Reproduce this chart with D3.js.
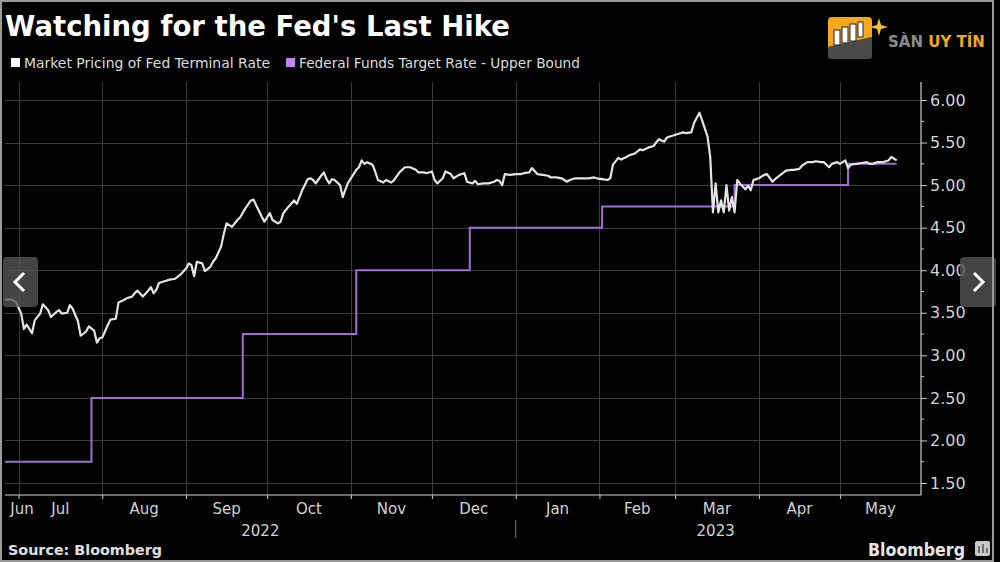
<!DOCTYPE html>
<html><head><meta charset="utf-8">
<script src="https://cdn.jsdelivr.net/npm/d3@7"></script>
<style>html,body{margin:0;padding:0;background:#000;}svg{display:block;}</style>
</head><body>
<svg id="chart" width="1000" height="562"></svg>
<script>
// ---------------- DATA ----------------
const titleText = "Watching for the Fed's Last Hike";
const seriesNames = ["Market Pricing of Fed Terminal Rate", "Federal Funds Target Rate - Upper Bound"];

const terminalDates = [
"2022-06-26","2022-06-28","2022-06-30","2022-07-02","2022-07-03","2022-07-04","2022-07-06","2022-07-07","2022-07-09","2022-07-10",
"2022-07-12","2022-07-13","2022-07-15","2022-07-16","2022-07-17","2022-07-19","2022-07-20","2022-07-21","2022-07-23","2022-07-24",
"2022-07-26","2022-07-27","2022-07-29","2022-07-30","2022-07-31","2022-08-01","2022-08-03","2022-08-04","2022-08-06","2022-08-07",
"2022-08-09","2022-08-10","2022-08-12","2022-08-13","2022-08-14","2022-08-16","2022-08-18","2022-08-19","2022-08-20","2022-08-21",
"2022-08-22","2022-08-24","2022-08-26","2022-08-28","2022-08-30","2022-09-01","2022-09-02","2022-09-03","2022-09-04","2022-09-05",
"2022-09-07","2022-09-08","2022-09-10","2022-09-11","2022-09-12","2022-09-14","2022-09-15","2022-09-16","2022-09-18","2022-09-20",
"2022-09-21","2022-09-23","2022-09-25","2022-09-26","2022-09-27","2022-09-29","2022-09-30","2022-10-01","2022-10-02","2022-10-03",
"2022-10-05","2022-10-06","2022-10-07","2022-10-09","2022-10-11","2022-10-12","2022-10-14","2022-10-16","2022-10-17","2022-10-18",
"2022-10-19","2022-10-21","2022-10-22","2022-10-23","2022-10-24","2022-10-25","2022-10-26","2022-10-28","2022-10-29","2022-10-30",
"2022-10-31","2022-11-01","2022-11-03","2022-11-04","2022-11-05","2022-11-06","2022-11-07","2022-11-09","2022-11-10","2022-11-11",
"2022-11-13","2022-11-14","2022-11-16","2022-11-17","2022-11-19","2022-11-21","2022-11-23","2022-11-25","2022-11-26","2022-11-28",
"2022-11-29","2022-12-01","2022-12-02","2022-12-03","2022-12-05","2022-12-06","2022-12-08","2022-12-09","2022-12-11","2022-12-13",
"2022-12-14","2022-12-16","2022-12-17","2022-12-18","2022-12-20","2022-12-22","2022-12-24","2022-12-25","2022-12-26","2022-12-27",
"2022-12-28","2022-12-30","2023-01-01","2023-01-03","2023-01-04","2023-01-06","2023-01-07","2023-01-09","2023-01-11","2023-01-13",
"2023-01-14","2023-01-16","2023-01-18","2023-01-20","2023-01-21","2023-01-23","2023-01-24","2023-01-26","2023-01-28","2023-01-30",
"2023-01-31","2023-02-02","2023-02-04","2023-02-05","2023-02-06","2023-02-08","2023-02-09","2023-02-11","2023-02-12","2023-02-14",
"2023-02-16","2023-02-17","2023-02-19","2023-02-21","2023-02-22","2023-02-23","2023-02-25","2023-02-26","2023-02-28","2023-03-02",
"2023-03-04","2023-03-05","2023-03-07","2023-03-08","2023-03-10","2023-03-11","2023-03-13","2023-03-14","2023-03-15","2023-03-16",
"2023-03-17","2023-03-18","2023-03-19","2023-03-20","2023-03-21","2023-03-22","2023-03-23","2023-03-24","2023-03-25","2023-03-27",
"2023-03-28","2023-03-29","2023-03-30","2023-03-31","2023-04-01","2023-04-03","2023-04-04","2023-04-06","2023-04-07","2023-04-09",
"2023-04-11","2023-04-13","2023-04-14","2023-04-16","2023-04-17","2023-04-19","2023-04-21","2023-04-22","2023-04-24","2023-04-25",
"2023-04-27","2023-04-28","2023-04-30","2023-05-01","2023-05-03","2023-05-04","2023-05-05","2023-05-07","2023-05-09","2023-05-11",
"2023-05-12","2023-05-13","2023-05-15","2023-05-17","2023-05-18","2023-05-19","2023-05-20","2023-05-22"
];
const terminalValues = [
3.65,3.66,3.63,3.49,3.31,3.36,3.26,3.41,3.49,3.60,
3.53,3.45,3.51,3.53,3.49,3.50,3.59,3.55,3.40,3.23,
3.28,3.34,3.29,3.15,3.20,3.21,3.35,3.42,3.43,3.62,
3.65,3.67,3.69,3.73,3.76,3.69,3.76,3.80,3.73,3.77,
3.85,3.87,3.89,3.90,3.95,4.02,4.08,4.06,3.93,4.10,
4.08,3.99,4.04,4.10,4.14,4.28,4.43,4.55,4.51,4.59,
4.62,4.73,4.82,4.83,4.76,4.63,4.57,4.62,4.67,4.59,
4.55,4.57,4.67,4.75,4.82,4.78,4.94,5.07,5.08,5.06,
5.02,5.11,5.15,5.07,5.02,5.07,5.06,5.00,4.86,4.95,
5.03,5.08,5.18,5.21,5.29,5.25,5.27,5.24,5.16,5.06,
5.03,5.06,5.03,5.06,5.15,5.21,5.21,5.18,5.15,5.15,
5.14,5.16,5.06,5.02,5.08,5.16,5.13,5.08,5.12,5.14,
5.04,5.02,5.05,5.01,5.02,5.02,5.04,5.06,5.05,5.00,
5.13,5.12,5.13,5.13,5.14,5.15,5.20,5.13,5.12,5.11,
5.09,5.09,5.08,5.04,5.06,5.08,5.08,5.08,5.08,5.09,
5.08,5.07,5.06,5.08,5.24,5.32,5.30,5.33,5.35,5.37,
5.42,5.41,5.44,5.46,5.50,5.54,5.51,5.56,5.58,5.60,
5.62,5.61,5.62,5.73,5.85,5.76,5.57,5.33,4.68,5.02,
4.68,4.82,4.68,5.00,4.70,4.86,4.68,5.06,5.02,4.95,
4.99,4.94,5.06,5.07,5.08,5.12,5.13,5.04,5.07,5.12,
5.17,5.18,5.18,5.19,5.23,5.27,5.27,5.28,5.27,5.27,
5.21,5.25,5.27,5.25,5.29,5.20,5.24,5.25,5.26,5.27,
5.25,5.25,5.27,5.27,5.28,5.29,5.33,5.29
];

const fedDates  = ["2022-06-26","2022-07-28","2022-09-22","2022-11-03","2022-12-15","2023-02-02","2023-03-23","2023-05-04","2023-05-22"];
const fedValues = [1.75, 2.50, 3.25, 4.00, 4.50, 4.75, 5.00, 5.25, 5.25];

const yTickValues = [1.5, 2.0, 2.5, 3.0, 3.5, 4.0, 4.5, 5.0, 5.5, 6.0];
const monthLabels = ["Jun","Jul","Aug","Sep","Oct","Nov","Dec","Jan","Feb","Mar","Apr","May"];
const monthStartDates = ["2022-06-01","2022-07-01","2022-08-01","2022-09-01","2022-10-01","2022-11-01","2022-12-01","2023-01-01","2023-02-01","2023-03-01","2023-04-01","2023-05-01"];
const yearLabels = ["2022","2023"];
const yearSpans = [["2022-06-26","2023-01-01"],["2023-01-01","2023-05-31"]];
const domainDates = ["2022-06-26","2023-05-31"];

// ---------------- DRAWING ----------------
const parse = d3.timeParse("%Y-%m-%d");
const svg = d3.select("#chart");
const W = 1000, H = 562;
const plotL = 5, plotR = 921, plotT = 82, plotB = 495;
const FONT = "'DejaVu Sans', Verdana, sans-serif";

svg.append("rect").attr("x",0).attr("y",0).attr("width",W).attr("height",H).attr("fill","#000");

const x = d3.scaleTime().domain(domainDates.map(parse)).range([plotL, plotR]);
const y = d3.scaleLinear().domain([1.5, 6]).range([483, 100]);

const monthStarts = monthStartDates.map(parse);
const innerMonths = monthStarts.filter(d => x(d) > plotL && x(d) < plotR);

// grid
const grid = svg.append("g").attr("class", "grid");
yTickValues.forEach(v => {
  grid.append("line")
    .attr("x1", plotL).attr("x2", plotR)
    .attr("y1", Math.round(y(v)) + 0.5).attr("y2", Math.round(y(v)) + 0.5)
    .style("stroke", "#3a3a3a").style("stroke-width", "1px");
});
innerMonths.forEach(d => {
  grid.append("line")
    .attr("x1", Math.round(x(d)) + 0.5).attr("x2", Math.round(x(d)) + 0.5)
    .attr("y1", plotT).attr("y2", plotB)
    .style("stroke", "#3a3a3a").style("stroke-width", "1px");
});

// series
const fedData = fedDates.map((d, i) => ({date: parse(d), v: fedValues[i]}));
const termData = terminalDates.map((d, i) => ({date: parse(d), v: terminalValues[i]}));

svg.append("path").datum(fedData)
  .attr("d", d3.line().x(d => x(d.date)).y(d => y(d.v)).curve(d3.curveStepAfter))
  .attr("fill", "none").attr("stroke", "#9d6fd6").attr("stroke-width", 2);

svg.append("path").datum(termData)
  .attr("d", d3.line().x(d => x(d.date)).y(d => y(d.v)).curve(d3.curveLinear))
  .attr("fill", "none").attr("stroke", "#e4e4e4").attr("stroke-width", 2.2).attr("stroke-linejoin","round");

// right axis
const yAxis = d3.axisRight(y).tickValues(yTickValues).tickFormat(d3.format(".2f")).tickSize(6).tickPadding(3);
const gy = svg.append("g").attr("transform", `translate(${plotR},0)`).call(yAxis);
gy.select(".domain").remove();
gy.selectAll(".tick line").attr("stroke", "#cfcfcf");
gy.selectAll(".tick text").attr("fill", "#d2d2d2").style("font-family", FONT).style("font-size", "16px");
svg.append("line").attr("x1", plotR).attr("x2", plotR).attr("y1", plotT).attr("y2", plotB)
  .attr("stroke", "#cfcfcf").attr("stroke-width", 1.2);
yTickValues.slice(0, -1).map(v => v + 0.25).forEach(v => {
  svg.append("line").attr("x1", plotR).attr("x2", plotR + 3).attr("y1", y(v)).attr("y2", y(v))
    .attr("stroke", "#cfcfcf");
});

// bottom axis
const xAxis = d3.axisBottom(x).tickValues(innerMonths).tickFormat("").tickSize(4);
const gx = svg.append("g").attr("transform", `translate(0,${plotB})`).call(xAxis);
gx.select(".domain").remove();
gx.selectAll(".tick line").attr("stroke", "#cfcfcf");
svg.append("line").attr("x1", plotL).attr("x2", plotR).attr("y1", plotB).attr("y2", plotB)
  .attr("stroke", "#cfcfcf").attr("stroke-width", 1.2);

// month labels (centered within each month, clamped to plot)
const mlab = svg.append("g");
monthLabels.forEach((m, i) => {
  const start = monthStarts[i];
  const end = d3.timeMonth.offset(start, 1);
  const a = Math.max(x(start), plotL), b = Math.min(x(end), plotR);
  let cx = (a + b) / 2;
  cx = Math.max(cx, plotL + 17);
  mlab.append("text").attr("x", cx).attr("y", 514).attr("text-anchor", "middle")
    .attr("fill", "#d2d2d2").style("font-family", FONT).style("font-size", "15px").text(m);
});
// year labels
yearLabels.forEach((yr, i) => {
  const a = parse(yearSpans[i][0]), b = parse(yearSpans[i][1]);
  const cx = i === 0 ? (x(a) + x(b)) / 2 : x(parse("2023-03-16"));
  svg.append("text").attr("x", cx).attr("y", 536).attr("text-anchor", "middle")
    .attr("fill", "#d2d2d2").style("font-family", FONT).style("font-size", "15px").text(yr);
});
svg.append("line").attr("x1", x(parse("2023-01-01"))).attr("x2", x(parse("2023-01-01")))
  .attr("y1", 520).attr("y2", 538).attr("stroke", "#777").attr("stroke-width", 1);

// title
svg.append("text").attr("x", 5).attr("y", 36).attr("fill", "#fff")
  .style("font-family", FONT).style("font-weight", "bold").style("font-size", "27.5px")
  .attr("textLength", 505).attr("lengthAdjust", "spacingAndGlyphs").text(titleText);

// legend
const legendColors = ["#ffffff", "#c184ee"];
const legendX = [11, 286];
const legendEnd = [270, 580];
seriesNames.forEach((n, i) => {
  svg.append("rect").attr("x", legendX[i]).attr("y", 58).attr("width", 9).attr("height", 9).attr("fill", legendColors[i]);
  svg.append("text").attr("x", legendX[i] + 13).attr("y", 68).attr("fill", "#dcdcdc")
    .style("font-family", FONT).style("font-size", "13.5px")
    .attr("textLength", legendEnd[i] - legendX[i] - 13).attr("lengthAdjust", "spacingAndGlyphs").text(n);
});

// footer
svg.append("text").attr("x", 8).attr("y", 555).attr("fill", "#e0e0e0")
  .style("font-family", FONT).style("font-weight", "bold").style("font-size", "14px")
  .attr("textLength", 154).attr("lengthAdjust", "spacingAndGlyphs").text("Source: Bloomberg");
svg.append("text").attr("x", 868).attr("y", 556).attr("fill", "#e6e6e6")
  .style("font-family", FONT).style("font-weight", "600").style("font-size", "17.5px")
  .attr("textLength", 97).attr("lengthAdjust", "spacingAndGlyphs").text("Bloomberg");
svg.append("rect").attr("x", 975).attr("y", 541).attr("width", 15).attr("height", 15).attr("rx", 2).attr("fill", "#c8c8c8");
svg.append("path").attr("d", "M979,553 V546 M983,553 V544 M987,553 V548").attr("stroke", "#555").attr("stroke-width", 1.5);

// watermark logo
const logo = svg.append("g");
logo.append("path").attr("d", "M828,47 L872,37 L872,56 Q872,59 869,59 L831,59 Q828,59 828,56 Z").attr("fill", "#4a4a4a");
logo.append("path").attr("d", "M832,17 H868 Q872,17 872,21 V37 L828,47 V21 Q828,17 832,17 Z").attr("fill", "#f5a81c");
[[834,30,6,15],[842,27,6,16],[850,24,6,17],[858,22,5,15]].forEach(r => {
  logo.append("rect").attr("x", r[0]).attr("y", r[1]).attr("width", r[2]).attr("height", r[3]).attr("fill", "#fff").attr("stroke", "#222").attr("stroke-width", 1);
});
logo.append("path").attr("d", "M879,18 L881,25 L888,27 L881,29 L879,36 L877,29 L870,27 L877,25 Z").attr("fill", "#f7c23a");
const lt = logo.append("text").attr("x", 888).attr("y", 47).style("font-family", FONT).style("font-weight", "bold").style("font-size", "15px");
lt.append("tspan").attr("fill", "#8c8c8c").text("SÀN ");
lt.append("tspan").attr("fill", "#f5a81c").text("UY TÍN");

// nav overlay buttons
const nav = svg.append("g");
nav.append("rect").attr("x", 3).attr("y", 257).attr("width", 35).attr("height", 50).attr("rx", 4).attr("fill", "#555").attr("opacity", 0.8);
nav.append("polyline").attr("points", "24,273 15,282 24,291").attr("fill", "none").attr("stroke", "#fff").attr("stroke-width", 3);
nav.append("rect").attr("x", 960).attr("y", 257).attr("width", 36).attr("height", 50).attr("rx", 4).attr("fill", "#555").attr("opacity", 0.8);
nav.append("polyline").attr("points", "974,273 983,282 974,291").attr("fill", "none").attr("stroke", "#fff").attr("stroke-width", 3);

// frame
svg.append("rect").attr("x", 1).attr("y", 1).attr("width", W - 8).attr("height", H - 2)
  .attr("fill", "none").attr("stroke", "#9a9a9a").attr("stroke-width", 2);
</script>
</body></html>
